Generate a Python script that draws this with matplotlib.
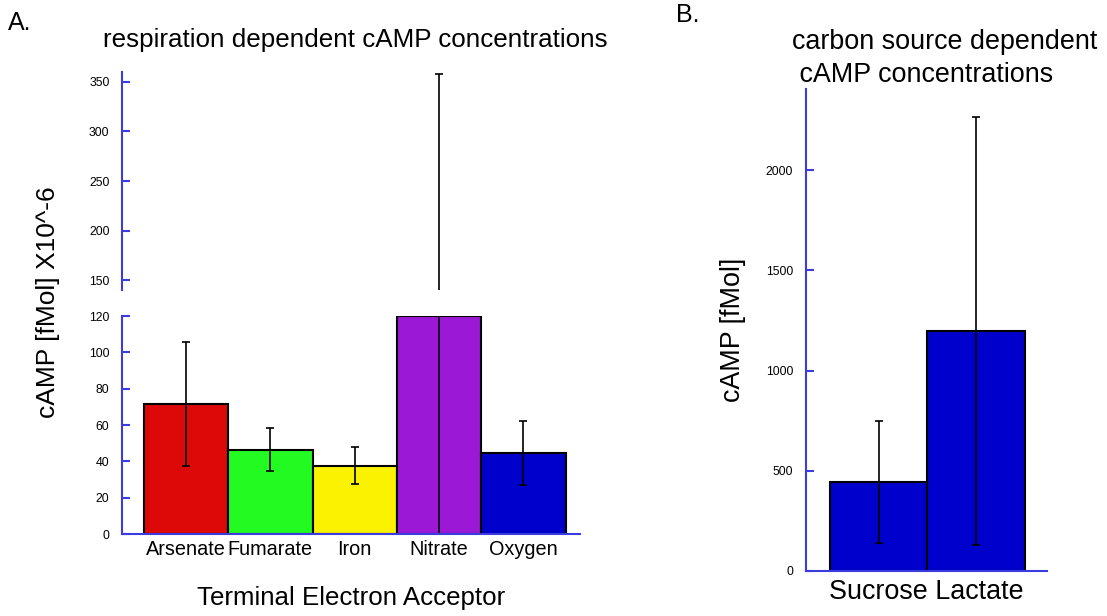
import numpy as np
import matplotlib
matplotlib.use("Agg")
import matplotlib.pyplot as plt

plt.rcParams['font.family'] = ['Liberation Sans', 'DejaVu Sans']

# panel A data
acceptors = ['Arsenate', 'Fumarate', 'Iron', 'Nitrate', 'Oxygen']
camp_a = [71.5, 46.5, 37.5, 120, 44.5]
err_a = [34, 12, 10.2, 238, 17.5]
colors_a = ['#DD0808', '#22FA22', '#FAF200', '#9B19D6', '#0000CC']

# panel B data
carbon = ['Sucrose', 'Lactate']
camp_b = [444, 1198]
err_b = [306, 1070]

axis_blue = '#3B3BE0'

fig = plt.figure(figsize=(11.07, 6.16), dpi=100)

ax_lo = fig.add_axes([0.1102, 0.1331, 0.4137, 0.3539])
ax_hi = fig.add_axes([0.1102, 0.5292, 0.4137, 0.3539])
ax_b = fig.add_axes([0.7278, 0.0731, 0.2177, 0.782])

x = np.arange(len(acceptors))
for ax in (ax_lo, ax_hi):
    ax.bar(x, camp_a, width=1.0, color=colors_a, edgecolor='black', linewidth=1.5)
    ax.errorbar(x, camp_a, yerr=err_a, fmt='none', ecolor='black',
                elinewidth=1.2, capsize=3, capthick=1.2)
    ax.set_xlim(-0.76, 4.67)
    for s in ('top', 'right'):
        ax.spines[s].set_visible(False)
    ax.spines['left'].set_color(axis_blue)
    ax.spines['left'].set_linewidth(1.5)
    ax.tick_params(axis='y', direction='in', length=6, width=1.5,
                   color=axis_blue, labelsize=8.8, pad=9)

ax_lo.set_ylim(0, 120)
ax_lo.set_yticks([0, 20, 40, 60, 80, 100, 120])
ax_lo.spines['bottom'].set_color(axis_blue)
ax_lo.spines['bottom'].set_linewidth(1.5)
ax_lo.set_xticks(x)
ax_lo.set_xticklabels(acceptors, fontsize=14.3)
ax_lo.tick_params(axis='x', length=0, pad=4)
ax_lo.set_xlabel('Terminal Electron Acceptor', fontsize=18.6, labelpad=20)

ax_hi.set_ylim(140, 360)
ax_hi.set_yticks([150, 200, 250, 300, 350])
ax_hi.spines['bottom'].set_visible(False)
ax_hi.set_xticks([])

fig.text(0.043, 0.51, 'cAMP [fMol] X10^-6', rotation=90, fontsize=19,
         ha='center', va='center')
fig.text(0.3207, 0.935, 'respiration dependent cAMP concentrations', fontsize=18.7,
         ha='center', va='center')
fig.text(0.007, 0.962, 'A.', fontsize=18, ha='left', va='center')

# panel B
xb = np.arange(len(carbon))
ax_b.bar(xb, camp_b, width=1.0, color='#0000CC', edgecolor='black', linewidth=1.5)
ax_b.errorbar(xb, camp_b, yerr=err_b, fmt='none', ecolor='black',
              elinewidth=1.2, capsize=3, capthick=1.2)
ax_b.set_xlim(-0.75, 1.727)
ax_b.set_ylim(0, 2404)
ax_b.set_yticks([0, 500, 1000, 1500, 2000])
for s in ('top', 'right'):
    ax_b.spines[s].set_visible(False)
for s in ('left', 'bottom'):
    ax_b.spines[s].set_color(axis_blue)
    ax_b.spines[s].set_linewidth(1.5)
ax_b.tick_params(axis='y', direction='in', length=6, width=1.5,
                 color=axis_blue, labelsize=8.8, pad=9)
ax_b.set_xticks([])
ax_b.set_xlabel(' '.join(carbon), fontsize=19.4, labelpad=6)
ax_b.set_ylabel('cAMP [fMol]', fontsize=19.4, labelpad=14)

fig.text(0.7154, 0.905, 'carbon source dependent\n cAMP concentrations', fontsize=19.4,
         ha='left', va='center', linespacing=1.32)
fig.text(0.611, 0.975, 'B.', fontsize=18, ha='left', va='center')

fig.savefig('out.png', dpi=100)
